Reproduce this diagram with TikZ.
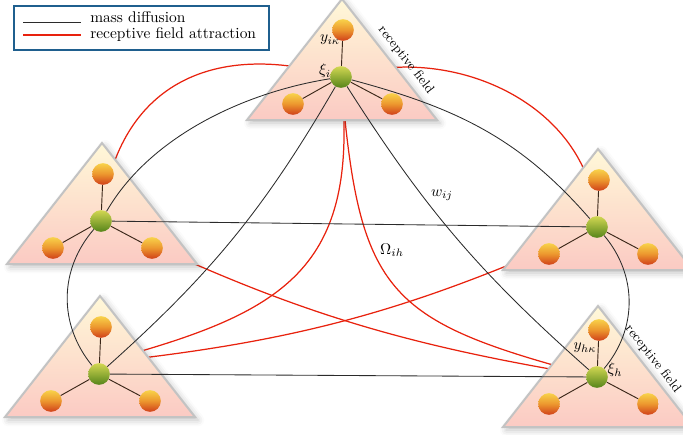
\documentclass[tikz,border=0pt]{standalone}
\usepackage{amsmath,amssymb}
\usepackage{tikz}
\usetikzlibrary{calc,positioning,shadows.blur}
\definecolor{RFred}{HTML}{E8220E}
\definecolor{MDgray}{HTML}{2B2B2B}
\definecolor{LGblue}{HTML}{1F5F8E}
\definecolor{TRItop}{HTML}{FFF8D8}
\definecolor{TRIbot}{HTML}{FBCAC3}
\definecolor{TRIedge}{HTML}{C3C3C3}
\definecolor{ORtop}{HTML}{F8D24A}
\definecolor{ORmid}{HTML}{EC962E}
\definecolor{ORbot}{HTML}{D0401A}
\definecolor{GRtop}{HTML}{D2D752}
\definecolor{GRbot}{HTML}{55841A}
\definecolor{SPKbrown}{HTML}{3A2618}
\pgfdeclarelayer{rfback}
\pgfdeclarelayer{trimid}
\pgfsetlayers{rfback,trimid,main}

\begin{document}
\begin{tikzpicture}[x=0.6472pt,y=0.6472pt,
  tri/.style={draw=TRIedge,line width=1.3pt,top color=TRItop,bottom color=TRIbot,
    blur shadow={shadow xshift=2pt,shadow yshift=-2pt,shadow blur radius=4pt,shadow opacity=25}},
  ball/.style={circle,inner sep=0pt,minimum size=14pt},
  oball/.style={ball,top color=ORtop,bottom color=ORbot,middle color=ORmid},
  gball/.style={ball,top color=GRtop,bottom color=GRbot},
  spoke/.style={SPKbrown,line width=0.6pt},
  mdiff/.style={MDgray,line width=0.55pt},
  rfa/.style={RFred,line width=0.8pt},
  rfield/.style={font=\fontsize{8.5}{10}\selectfont,rotate=-52}]
  \useasboundingbox (0,0) rectangle (683,-434);
  % clusters: name / centre x / centre y (pixels, y down) / triangle shift
  \foreach \cl/\cx/\cy/\ty in {xi/341/77/0,xl/101/221/0,xr/597/227/0,xb/99/374/0,xh/597/377/7}{
    \begin{pgfonlayer}{trimid}
      \path[tri] (\cx+1,-\cy+78-\ty) -- ++(-95,-121) -- ++(190,0) -- cycle;
    \end{pgfonlayer}
    \node[gball] (\cl) at (\cx,-\cy) {};
    \node[oball] (\cl-t) at (\cx+2,-\cy+47) {};
    \node[oball] (\cl-l) at (\cx-48,-\cy-27) {};
    \node[oball] (\cl-r) at (\cx+51,-\cy-27) {};
    \foreach \s in {t,l,r}
      \draw[spoke] (\cl) -- (\cl-\s);
  }

  % receptive field attraction (behind the triangles)
  \begin{pgfonlayer}{rfback}
    \draw[rfa] (xi) to[out=165,in=82,looseness=1.2] (xl);
    \draw[rfa] (xi) to[out=15,in=95] (xr);
    \draw[rfa] (xi) to[out=-85,in=15,looseness=1.3] (xb.north);
    \draw[rfa] (xi) to[out=-85,in=165,looseness=1.4] (xh);
    \draw[rfa] (xl) to[bend right=8] (xh);
    \draw[rfa] (xr) to[bend left=9] (xb.north);
  \end{pgfonlayer}

  % mass diffusion
  \draw[mdiff] (xi) to[out=189,in=60,looseness=0.85] (xl);
  \draw[mdiff] (xi) to[out=-15,in=131] (xr);
  \draw[mdiff] (xi) to[bend left=9] (xb);
  \draw[mdiff] (xi) to[bend right=8] (xh);
  \draw[mdiff] (xl) -- (xr);
  \draw[mdiff] (xb) -- (xh);
  \draw[mdiff] (xl) to[bend right=40] (xb);
  \draw[mdiff] (xr) to[bend left=40] (xh);

  % labels
  \node (yik) at (330,-40) {$y_{i\kappa}$};
  \node (xii) at (325,-71) {$\xi_i$};
  \node[rfield] (rfi) at (406,-60) {receptive field};
  \node (wij) at (442,-195) {$w_{ij}$};
  \node (oih) at (392,-250) {$\Omega_{ih}$};
  \node (yhk) at (585,-348) {$y_{h\kappa}$};
  \node (xih) at (615,-370) {$\xi_h$};
  \node[rfield] (rfh) at (653,-359) {receptive field};

  % legend
  \draw[LGblue,line width=0.7pt,fill=white] (14,-6) rectangle (269,-50);
  \node[anchor=base west,inner sep=0pt] (lgmass) at (90,-22.7) {mass diffusion};
  \node[anchor=base west,inner sep=0pt] (lgrfa) at (90,-38.3) {receptive field attraction};
  \draw[mdiff] ($(lgmass.base west)+(-67,0)$) -- ++(58,0);
  \draw[rfa] ($(lgrfa.base west)+(-67,3.3)$) -- ++(58,0);
\end{tikzpicture}
\end{document}
